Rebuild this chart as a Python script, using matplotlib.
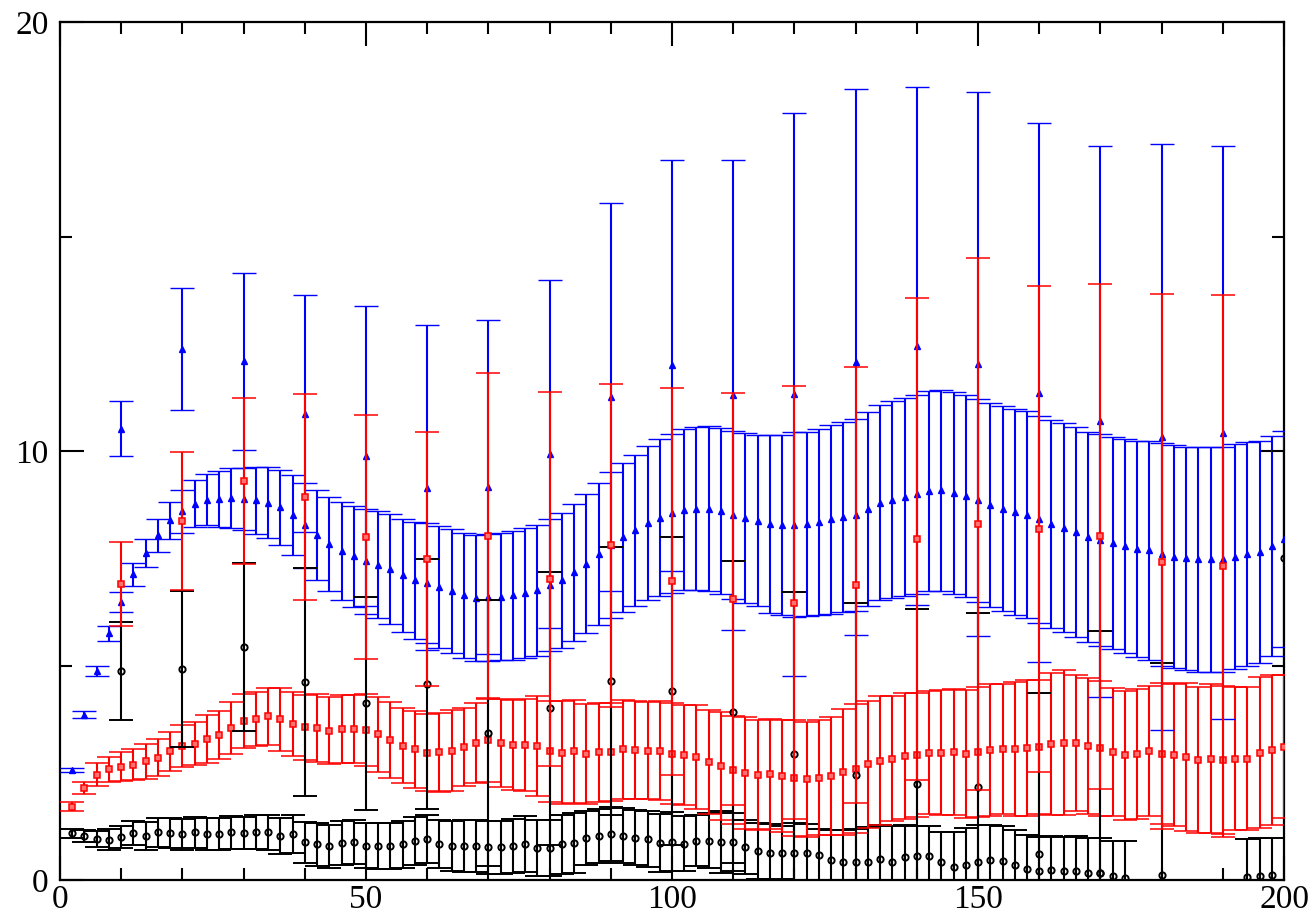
import numpy as np
import matplotlib
matplotlib.use("Agg")
import matplotlib.pyplot as plt
from matplotlib.ticker import MultipleLocator

nan = np.nan

# dense series, x = 2, 4, ..., 200
x_dense = np.arange(2, 201, 2)

blue_dense = [2.56, 3.85, 4.88, 5.75, 6.49, 7.13, 7.63, 8.04, 8.39, 8.60,
              8.78, 8.87, 8.89, 8.91, 8.89, 8.86, 8.80, 8.69, 8.51, 8.27,
              8.05, 7.84, 7.67, 7.55, 7.43, 7.35, 7.25, 7.11, 6.99, 6.92,
              6.84, 6.74, 6.64, 6.58, 6.59, 6.61, 6.64, 6.70, 6.76, 6.88,
              6.99, 7.18, 7.38, 7.60, 7.82, 7.99, 8.16, 8.33, 8.45, 8.55,
              8.64, 8.66, 8.66, 8.61, 8.51, 8.45, 8.38, 8.30, 8.28, 8.29,
              8.31, 8.35, 8.41, 8.47, 8.52, 8.66, 8.80, 8.87, 8.93, 9.00,
              9.07, 9.09, 9.03, 8.95, 8.86, 8.75, 8.66, 8.58, 8.52, 8.41,
              8.31, 8.22, 8.12, 8.00, 7.93, 7.86, 7.79, 7.73, 7.69, 7.60,
              7.54, 7.50, 7.48, 7.48, 7.48, 7.54, 7.60, 7.65, 7.79, 7.95]
blue_dense_err = [0.05, 0.08, 0.12, 0.18, 0.23, 0.27, 0.33, 0.38, 0.43, 0.50,
                  0.55, 0.60, 0.65, 0.70, 0.73, 0.78, 0.83, 0.88, 0.93, 1.00,
                  1.05, 1.10, 1.15, 1.18, 1.22, 1.25, 1.28, 1.32, 1.36, 1.40,
                  1.42, 1.45, 1.46, 1.47, 1.48, 1.49, 1.50, 1.52, 1.53, 1.55,
                  1.58, 1.60, 1.63, 1.66, 1.70, 1.73, 1.76, 1.80, 1.83, 1.86,
                  1.88, 1.90, 1.92, 1.94, 1.96, 1.98, 2.00, 2.07, 2.10, 2.15,
                  2.15, 2.18, 2.20, 2.22, 2.24, 2.26, 2.28, 2.30, 2.31, 2.32,
                  2.33, 2.34, 2.35, 2.36, 2.37, 2.38, 2.39, 2.40, 2.41, 2.42,
                  2.43, 2.44, 2.45, 2.46, 2.47, 2.48, 2.50, 2.52, 2.55, 2.60,
                  2.60, 2.61, 2.62, 2.62, 2.62, 2.62, 2.62, 2.60, 2.56, 2.52]

red_dense = [1.71, 2.14, 2.46, 2.58, 2.64, 2.69, 2.77, 2.85, 3.00, 3.12,
             3.18, 3.28, 3.38, 3.55, 3.71, 3.75, 3.82, 3.75, 3.64, 3.56,
             3.54, 3.48, 3.53, 3.53, 3.50, 3.40, 3.27, 3.13, 3.05, 2.97,
             2.98, 3.02, 3.11, 3.20, 3.27, 3.20, 3.14, 3.15, 3.13, 3.00,
             2.97, 3.00, 2.94, 2.98, 2.99, 3.05, 3.03, 3.02, 3.02, 2.95,
             2.91, 2.87, 2.76, 2.66, 2.56, 2.50, 2.45, 2.47, 2.42, 2.37,
             2.35, 2.38, 2.42, 2.52, 2.60, 2.70, 2.78, 2.83, 2.89, 2.91,
             2.97, 2.97, 2.99, 2.94, 2.99, 3.03, 3.05, 3.06, 3.08, 3.11,
             3.17, 3.20, 3.19, 3.12, 3.07, 2.99, 2.91, 2.94, 3.01, 2.95,
             2.91, 2.87, 2.80, 2.83, 2.80, 2.83, 2.83, 2.97, 3.03, 3.11]
red_dense_err = [0.10, 0.14, 0.26, 0.30, 0.34, 0.36, 0.41, 0.43, 0.45, 0.49,
                 0.50, 0.56, 0.56, 0.60, 0.63, 0.63, 0.66, 0.73, 0.75, 0.75,
                 0.79, 0.78, 0.79, 0.79, 0.84, 0.87, 0.89, 0.87, 0.90, 0.89,
                 0.92, 0.94, 0.91, 0.93, 0.98, 1.02, 1.05, 1.07, 1.16, 1.17,
                 1.20, 1.20, 1.16, 1.15, 1.14, 1.15, 1.15, 1.14, 1.16, 1.18,
                 1.17, 1.21, 1.21, 1.25, 1.26, 1.31, 1.29, 1.28, 1.30, 1.35,
                 1.34, 1.34, 1.38, 1.47, 1.50, 1.48, 1.50, 1.45, 1.46, 1.44,
                 1.44, 1.45, 1.47, 1.50, 1.52, 1.53, 1.52, 1.56, 1.58, 1.56,
                 1.65, 1.69, 1.59, 1.58, 1.58, 1.49, 1.50, 1.51, 1.52, 1.64,
                 1.65, 1.72, 1.70, 1.73, 1.72, 1.67, 1.67, 1.76, 1.75, 1.66]

black_dense = [1.09, 1.03, 0.96, 0.94, 1.01, 1.10, 1.03, 1.11, 1.09, 1.07,
               1.11, 1.07, 1.07, 1.11, 1.10, 1.12, 1.11, 1.03, 1.07, 0.88,
               0.83, 0.79, 0.87, 0.89, 0.80, 0.80, 0.80, 0.83, 0.91, 0.95,
               0.85, 0.79, 0.79, 0.79, 0.76, 0.76, 0.79, 0.84, 0.75, 0.75,
               0.83, 0.87, 0.99, 1.03, 1.07, 1.03, 0.99, 0.95, 0.87, 0.89,
               0.85, 0.92, 0.92, 0.89, 0.89, 0.78, 0.68, 0.64, 0.64, 0.64,
               0.62, 0.58, 0.47, 0.43, 0.41, 0.43, 0.49, 0.43, 0.54, 0.56,
               0.56, 0.41, 0.31, 0.36, 0.43, 0.47, 0.45, 0.36, 0.26, 0.22,
               0.23, 0.21, 0.22, 0.17, 0.17, 0.09, 0.05, nan, nan, nan,
               nan, nan, nan, nan, nan, nan, 0.07, 0.09, 0.12, nan]
black_dense_err = [0.11, 0.14, 0.19, 0.25, 0.26, 0.28, 0.32, 0.33, 0.35, 0.36,
                   0.36, 0.37, 0.38, 0.38, 0.38, 0.39, 0.40, 0.42, 0.44, 0.48,
                   0.50, 0.50, 0.51, 0.51, 0.53, 0.54, 0.54, 0.55, 0.55, 0.56,
                   0.56, 0.58, 0.60, 0.60, 0.62, 0.62, 0.63, 0.65, 0.66, 0.66,
                   0.68, 0.70, 0.63, 0.63, 0.63, 0.64, 0.65, 0.65, 0.68, 0.69,
                   0.65, 0.60, 0.64, 0.72, 0.67, 0.63, 0.65, 0.66, 0.62, 0.70,
                   0.68, 0.62, 0.70, 0.74, 0.78, 0.80, 0.80, 0.82, 0.75, 0.70,
                   0.70, 0.72, 0.80, 0.85, 0.85, 0.82, 0.82, 0.80, 0.80, 0.79,
                   0.80, 0.80, 0.81, 0.80, 0.80, 0.82, 0.86, nan, nan, nan,
                   nan, nan, nan, nan, nan, nan, 0.89, 0.90, 0.86, nan]

# sparse series, every 10
x_sparse = [10, 20, 30, 40, 50, 60, 70, 80, 90, 100,
            110, 120, 130, 140, 150, 160, 170, 180, 190]
blue_sparse = [10.53, 12.39, 12.10, 10.88, 9.89, 9.15, 9.17, 9.94, 11.27, 12.00,
               11.32, 11.33, 12.09, 12.45, 12.04, 11.37, 10.70, 10.33, 10.43]
blue_sparse_err = [0.64, 1.42, 2.06, 2.76, 3.50, 3.79, 3.90, 4.06, 4.53, 4.79,
                   5.48, 6.57, 6.37, 6.04, 6.34, 6.28, 6.43, 6.84, 6.68]
red_sparse = [6.90, 8.37, 9.30, 8.93, 8.00, 7.48, 8.02, 7.02, 7.81, 6.97,
              6.56, 6.47, 6.88, 7.95, 8.30, 8.18, 8.02, 7.42, 7.32]
red_sparse_err = [0.98, 1.61, 1.94, 2.41, 2.85, 2.96, 3.81, 4.36, 3.77, 4.51,
                  4.80, 5.05, 5.09, 5.62, 6.20, 5.67, 5.89, 6.24, 6.32]

x_sparse_black = [10, 20, 30, 40, 50, 60, 70, 80, 90, 100,
                  110, 120, 130, 140, 150, 160, 170, 180, 200]
black_sparse = [4.88, 4.92, 5.43, 4.62, 4.12, 4.57, 3.43, 4.00, 4.64, 4.41,
                3.92, 2.94, 2.45, 2.24, 2.17, 0.61, 0.17, 0.12, 7.50]
black_sparse_err = [1.14, 1.82, 1.96, 2.65, 2.48, 2.91, 3.10, 3.19, 3.12, 3.59,
                    3.52, 3.77, 4.00, 4.09, 4.06, 3.75, 5.63, 4.94, 2.50]

plt.rcParams["font.family"] = ["Liberation Serif", "DejaVu Serif"]

fig = plt.figure(figsize=(13.12, 9.18), dpi=100)
ax = fig.add_axes([0.0457, 0.0414, 0.9330, 0.9341])

bar_kw = dict(linestyle="none", elinewidth=1.5, capthick=1.5, capsize=8.6)


def draw(x, y, err, color, marker, ms, mfc, mew, z):
    ax.errorbar(x, y, yerr=err, fmt=marker, color=color, ecolor=color,
                ms=ms, mfc=mfc, mec=color, mew=mew, zorder=z, **bar_kw)


draw(x_dense, black_dense, black_dense_err, "black", "o", 4.5, "none", 1.4, 2)
draw(x_dense, red_dense, red_dense_err, "red", "s", 4.0, "#ff7070", 1.1, 3)
draw(x_dense, blue_dense, blue_dense_err, "blue", "^", 5.0, "blue", 1.0, 4)
draw(x_sparse_black, black_sparse, black_sparse_err, "black", "o", 4.5, "none", 1.4, 5)
draw(x_sparse, blue_sparse, blue_sparse_err, "blue", "^", 5.0, "blue", 1.0, 6)
draw(x_sparse, red_sparse, red_sparse_err, "red", "s", 4.0, "#ff7070", 1.1, 7)

ax.set_xlim(0, 200)
ax.set_ylim(0, 20)
ax.xaxis.set_major_locator(MultipleLocator(50))
ax.xaxis.set_minor_locator(MultipleLocator(10))
ax.yaxis.set_major_locator(MultipleLocator(10))
ax.yaxis.set_minor_locator(MultipleLocator(5))
ax.tick_params(which="both", direction="in", top=True, right=True,
               width=1.5, labelsize=24)
ax.tick_params(which="major", length=17)
ax.tick_params(which="minor", length=8.5)
ax.tick_params(axis="y", which="major", pad=8)
ax.tick_params(axis="x", which="major", pad=3)
for sp in ax.spines.values():
    sp.set_linewidth(1.6)

fig.savefig("out.png", dpi=100)
